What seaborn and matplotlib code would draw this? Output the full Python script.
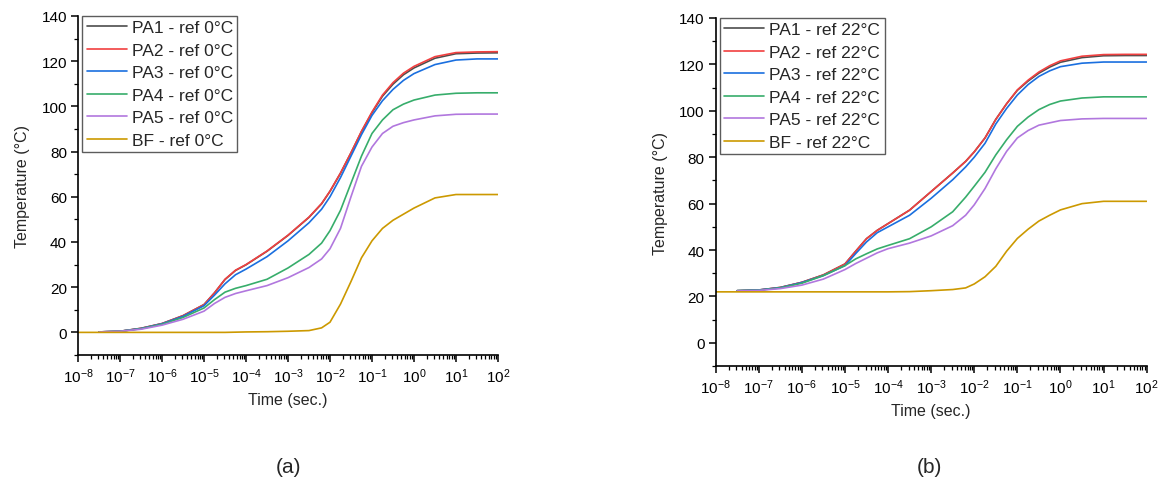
import numpy as np
import pandas as pd
import seaborn as sns
import matplotlib
matplotlib.use("Agg")
from matplotlib import pyplot as plt
from matplotlib.ticker import LogLocator, MultipleLocator, NullFormatter

# log10 of time (sec.) at which the curves were read
log_t = [-8, -7.5, -7, -6.5, -6, -5.5, -5, -4.75, -4.5, -4.25, -4, -3.5, -3, -2.5,
         -2.2, -2, -1.75, -1.5, -1.25, -1, -0.75, -0.5, -0.25, 0, 0.5, 1, 1.5, 2]

# (a) reference 0 degC
pa1_0 = [np.nan, 0.2, 0.5, 1.8, 3.9, 7.4, 12.3, 17.5, 23.4, 27.4, 29.9, 35.9, 42.9, 50.9,
         56.9, 62.4, 70.4, 79.4, 88.8, 97.2, 104.5, 109.8, 114, 117, 121.3, 123.3, 123.6, 123.7]
pa2_0 = [np.nan, 0.2, 0.5, 1.8, 3.9, 7.4, 12.3, 17.5, 23.5, 27.5, 30, 36, 43, 51,
         57, 62.5, 70.5, 79.5, 89, 97.5, 105, 110.5, 114.7, 117.7, 122, 123.8, 124.1, 124.2]
pa3_0 = [np.nan, 0.2, 0.5, 1.7, 3.8, 7.1, 11.8, 16.5, 21.5, 25.5, 28, 33.5, 40.5, 48.5,
         54.5, 60, 68.5, 78, 87.5, 96, 102.5, 107.5, 111.5, 114.5, 118.5, 120.5, 121, 121]
pa4_0 = [np.nan, 0.2, 0.5, 1.6, 3.6, 6.6, 10.8, 14.5, 17.8, 19.5, 20.7, 23.5, 28.5, 34.5,
         39.5, 45, 54, 66, 78, 88, 94, 98.5, 101, 102.8, 105, 105.8, 106, 106]
pa5_0 = [np.nan, 0.2, 0.5, 1.4, 3.2, 5.8, 9.4, 12.8, 15.5, 17.2, 18.4, 20.7, 24.2, 28.7,
         32.5, 37, 46, 60, 73.5, 82, 88, 91.2, 92.8, 94, 95.8, 96.5, 96.6, 96.6]
bf_0 = [0, 0, 0, 0, 0, 0, 0, 0, 0, 0.1, 0.2, 0.3, 0.5, 0.8,
        2, 4.5, 12.5, 22.5, 33, 40.5, 46, 49.6, 52.3, 55, 59.5, 61, 61, 61]

# (b) reference 22 degC
pa1_22 = [np.nan, 22.5, 22.8, 23.9, 26.1, 29.3, 34, 39.5, 44.9, 48.5, 51.4, 57.2, 65.2, 73.2,
          78.2, 82.3, 88.3, 96.3, 103, 108.8, 112.8, 116.2, 118.8, 120.9, 122.9, 123.7, 123.8, 123.8]
pa2_22 = [np.nan, 22.5, 22.8, 23.9, 26.1, 29.3, 34, 39.5, 44.9, 48.5, 51.4, 57.2, 65.2, 73.2,
          78.2, 82.3, 88.3, 96.3, 103, 109, 113.2, 116.7, 119.4, 121.5, 123.5, 124.2, 124.3, 124.3]
pa3_22 = [np.nan, 22.5, 22.8, 23.8, 26, 29, 33.3, 38.5, 43.5, 47.5, 50, 55, 62.3, 70.3,
          75.8, 80, 86, 94.3, 101, 106.8, 111.3, 114.8, 117.2, 119, 120.5, 121, 121, 121]
pa4_22 = [np.nan, 22.5, 22.7, 23.7, 25.7, 29, 33.3, 36.2, 38.4, 40.5, 42, 44.9, 50, 56.5,
          62.8, 67.5, 73.5, 81, 87.5, 93.3, 97.3, 100.5, 102.7, 104.2, 105.5, 106, 106, 106]
pa5_22 = [np.nan, 22.4, 22.6, 23.4, 24.9, 27.5, 31.6, 34.2, 36.5, 38.8, 40.6, 43, 46.1, 50.5,
          55, 59.5, 66.5, 75, 82.5, 88.3, 91.5, 93.8, 94.8, 95.8, 96.5, 96.7, 96.7, 96.7]
bf_22 = [22, 22, 22, 22, 22, 22, 22, 22, 22, 22, 22, 22.1, 22.5, 23,
         23.7, 25.4, 28.5, 33, 39.5, 45, 49, 52.5, 55, 57.3, 60, 61, 61, 61]

names = ["PA1", "PA2", "PA3", "PA4", "PA5", "BF"]
colors = ["#4d4d4d", "#f14040", "#1a6fdf", "#37ad6b", "#b177de", "#cc9900"]

sns.set_theme(style="ticks")
plt.rcParams["font.family"] = ["Liberation Sans", "DejaVu Sans"]
plt.rcParams["mathtext.fontset"] = "custom"
plt.rcParams["mathtext.rm"] = "Liberation Sans"
plt.rcParams["mathtext.it"] = "Liberation Sans:italic"
plt.rcParams["axes.unicode_minus"] = False


def make_df(series, ref):
    rows = []
    for name, vals in zip(names, series):
        for lt, v in zip(log_t, vals):
            if not np.isnan(v):
                rows.append({"time": 10.0 ** lt, "temp": v,
                             "series": f"{name} - ref {ref}°C"})
    return pd.DataFrame(rows)


df_a = make_df([pa1_0, pa2_0, pa3_0, pa4_0, pa5_0, bf_0], "0")
df_b = make_df([pa1_22, pa2_22, pa3_22, pa4_22, pa5_22, bf_22], "22")

fig = plt.figure(figsize=(11.58, 4.85), dpi=100)
ax_a = fig.add_axes([0.0674, 0.266, 0.3626, 0.699])
ax_b = fig.add_axes([0.618, 0.243, 0.3722, 0.718])

for ax, df in [(ax_a, df_a), (ax_b, df_b)]:
    sns.lineplot(data=df, x="time", y="temp", hue="series", palette=colors,
                 linewidth=1.2, ax=ax)
    ax.set_xscale("log")
    ax.set_xlim(1e-8, 1e2)
    ax.set_ylim(-10, 140)
    ax.xaxis.set_major_locator(LogLocator(base=10, numticks=20))
    ax.xaxis.set_minor_locator(LogLocator(base=10, subs=np.arange(2, 10), numticks=200))
    ax.xaxis.set_minor_formatter(NullFormatter())
    ax.yaxis.set_major_locator(MultipleLocator(20))
    ax.yaxis.set_minor_locator(MultipleLocator(10))
    ax.set_yticks(range(0, 141, 20))
    ax.tick_params(which="major", direction="out", length=5, width=1.1,
                   labelsize=11, colors="black", pad=3)
    ax.tick_params(which="minor", direction="out", length=3, width=0.9, colors="black")
    for side in ["top", "right"]:
        ax.spines[side].set_visible(False)
    for side in ["left", "bottom"]:
        ax.spines[side].set_linewidth(1.2)
        ax.spines[side].set_color("black")
    ax.set_xlabel("Time (sec.)", fontsize=11.5, labelpad=5)
    ax.set_ylabel("Temperature (°C)", fontsize=11.5, labelpad=8)
    leg = ax.legend(loc="upper left", bbox_to_anchor=(0.01, 1.0), fontsize=12.5,
                    frameon=True, fancybox=False, handlelength=2.3,
                    handletextpad=0.3, labelspacing=0.42, borderpad=0.25,
                    borderaxespad=0.0)
    leg.get_frame().set_edgecolor("#333333")
    leg.get_frame().set_linewidth(1.0)
    for line in leg.get_lines():
        line.set_linewidth(1.2)

fig.text(0.249, 0.037, "(a)", fontsize=15, ha="center", va="center")
fig.text(0.803, 0.037, "(b)", fontsize=15, ha="center", va="center")

fig.savefig("out.png", dpi=100)
